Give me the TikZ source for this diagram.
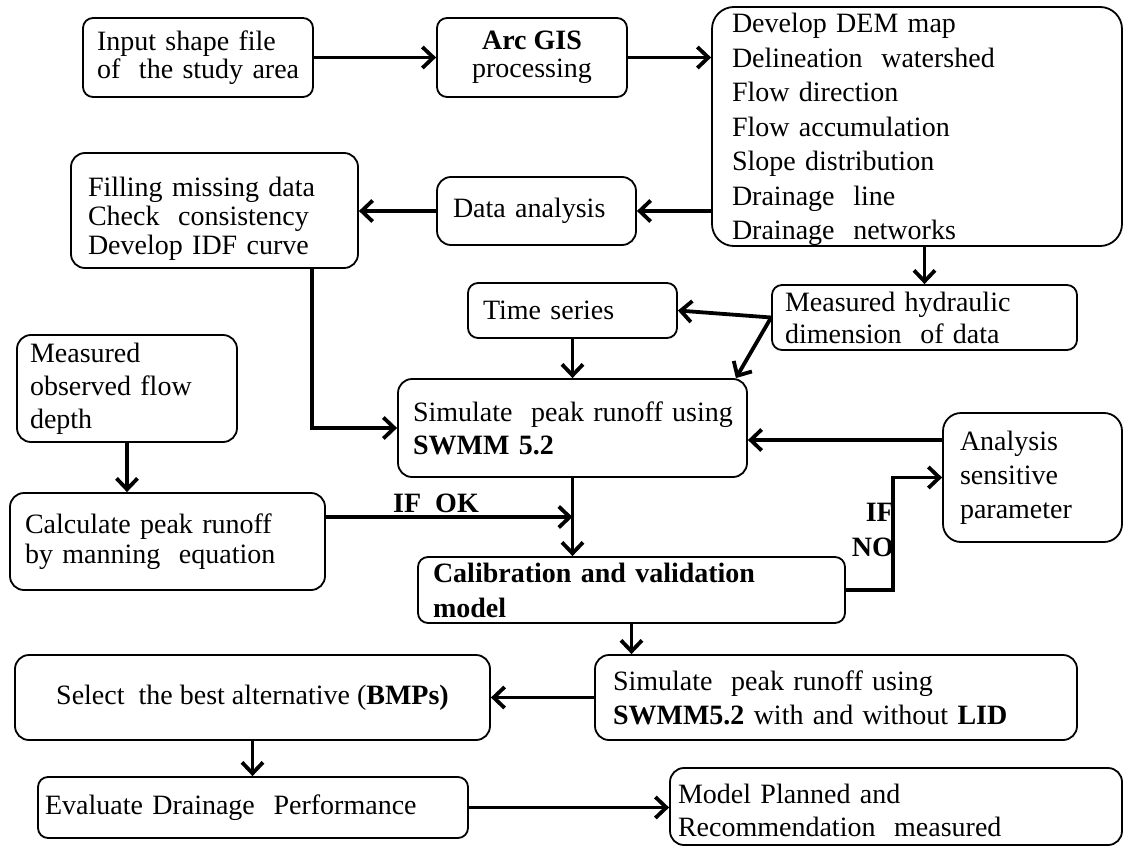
\documentclass[tikz,border=0pt]{standalone}
\usepackage{fontspec}
\setmainfont{Liberation Serif}
\usetikzlibrary{arrows.meta}
\newcommand{\fA}{\fontsize{28}{28}\selectfont}
\newcommand{\fB}{\fontsize{28}{33}\selectfont}
\newcommand{\fC}{\fontsize{28}{34.5}\selectfont}
\newcommand{\fD}{\fontsize{28}{29}\selectfont}
\newcommand{\fE}{\fontsize{28}{30}\selectfont}
\newcommand{\fF}{\fontsize{28}{35}\selectfont}
\newcommand{\fG}{\fontsize{28}{32}\selectfont}
\newcommand{\fH}{\fontsize{28}{34}\selectfont}
\newcommand{\mbx}[1]{\mbox{#1}}
\begin{document}
\begin{tikzpicture}[x=1pt,y=-1pt,
  box/.style={draw, line width=1.8pt, rounded corners=10pt, inner sep=0pt, align=left},
  conn/.style={line width=3.8pt, -{Straight Barb[length=11pt,width=21pt]}},
  lbl/.style={font=\fF\bfseries, inner sep=0pt}]
\useasboundingbox[fill=white] (0,0) rectangle (1126,848);

% nodes
\node[box, minimum width=230pt, minimum height=79pt, text width=202pt, font=\fA] (in1) at (198,57.5)
  {\mbx{Input shape file}\\\mbx{of~ the study area}};
\node[box, align=center, minimum width=190pt, minimum height=79pt, font=\fA] (arc) at (532,57.5)
  {\textbf{Arc GIS}\\processing};
\node[box, rounded corners=22pt, minimum width=410pt, minimum height=237pt, text width=370pt, font=\fC] (big) at (917,126.5)
  {\rule{0pt}{26pt}\mbx{Develop DEM map}\\\mbx{Delineation~ watershed}\\\mbx{Flow direction}\\\mbx{Flow accumulation}\\\mbx{Slope distribution}\\\mbx{Drainage~ line}\\\mbx{Drainage~ networks}};
\node[box, rounded corners=14pt, minimum width=287pt, minimum height=115pt, text width=253pt, font=\fD] (fill) at (214.5,210.5)
  {\rule{0pt}{36pt}\mbx{Filling missing data}\\\mbx{Check~ consistency}\\\mbx{Develop IDF curve}};
\node[box, rounded corners=14pt, minimum width=199pt, minimum height=68pt, text width=167pt, font=\fA] (data) at (536.5,211)
  {\mbx{Data analysis}};
\node[box, minimum width=209pt, minimum height=55pt, text width=179pt, font=\fA] (ts) at (572.5,310.5)
  {\mbx{Time series}};
\node[box, minimum width=305pt, minimum height=65pt, text width=279pt, font=\fG] (hyd) at (924.5,317.5)
  {\mbx{Measured hydraulic}\\\mbx{dimension~ of data}};
\node[box, rounded corners=14pt, minimum width=349pt, minimum height=98pt, text width=319pt, font=\fB] (sim) at (572.5,428)
  {\mbx{Simulate~ peak runoff using}\\\mbx{\textbf{SWMM 5.2}}};
\node[box, rounded corners=14pt, minimum width=220pt, minimum height=107pt, text width=194pt, font=\fB] (obs) at (127,388.5)
  {\mbx{Measured}\\\mbx{observed flow}\\\mbx{depth}};
\node[box, rounded corners=14pt, minimum width=315pt, minimum height=97pt, text width=285pt, font=\fE] (calc) at (167.5,541.5)
  {\mbx{Calculate peak runoff}\\\mbx{by manning~ equation}};
\node[box, minimum width=427pt, minimum height=66pt, text width=397pt, font=\fF\bfseries] (calib) at (631.5,590)
  {\mbx{Calibration and validation}\\\mbx{model}};
\node[box, rounded corners=18pt, minimum width=179pt, minimum height=129pt, text width=145pt, font=\fH] (ana) at (1032.5,477.5)
  {\mbx{Analysis}\\\mbx{sensitive}\\\mbx{parameter}};
\node[box, rounded corners=14pt, minimum width=482pt, minimum height=85pt, text width=446pt, font=\fH] (sim2) at (836,697.5)
  {\mbx{Simulate~ peak runoff using}\\\mbx{\textbf{SWMM5.2} with and without \textbf{LID}}};
\node[box, rounded corners=14pt, align=center, minimum width=475pt, minimum height=85pt, font=\fA] (sel) at (252.5,697.5)
  {Select~ the best alternative (\textbf{BMPs)}};
\node[box, minimum width=430pt, minimum height=61pt, text width=416pt, font=\fA] (eva) at (253,807.5)
  {\mbx{Evaluate Drainage~ Performance}};
\node[box, rounded corners=14pt, minimum width=452pt, minimum height=77pt, text width=436pt, font=\fB] (model) at (896,806.5)
  {\rule{0pt}{27pt}\mbx{Model Planned and}\\\mbx{Recommendation~ measured}};

% labels
\node[lbl, anchor=south] (ifok) at (436,513) {IF~ OK};
\node[lbl, align=right, anchor=east] (ifno) at (894,530) {IF\\NO};

% helper coordinates
\coordinate (fillOut) at ([xshift=97.5pt]fill.south);
\coordinate (calcOut) at ([yshift=24.5pt]calc.east);
\coordinate (anaOut) at ([yshift=37.5pt]ana.west);

% connectors
\draw[conn] (in1.east) -- (arc.west);
\draw[conn] (arc.east) -- (arc.east -| big.west);
\draw[conn] (data.east -| big.west) -- (data.east);
\draw[conn] (data.west) -- (data.west -| fill.east);
\draw[conn] (hyd.north |- big.south) -- (hyd.north);
\draw[conn] (hyd.west) -- (ts.east);
\draw[conn] (hyd.west) -- ([xshift=-12pt]sim.north east);
\draw[conn] (ts.south) -- (sim.north);
\draw[conn] (fillOut) |- (sim.west);
\draw[conn] (obs.south) -- (obs.south |- calc.north);
\draw[conn] (calcOut) -- (calcOut -| sim.south);
\draw[conn] (sim.south) -- (sim.south |- calib.north);
\draw[conn] (calib.east) -- ++(47,0) |- (ana.west);
\draw[conn] (anaOut) -- (anaOut -| sim.east);
\draw[conn] (calib.south) -- (calib.south |- sim2.north);
\draw[conn] (sim2.west) -- (sel.east);
\draw[conn] (sel.south) -- (sel.south |- eva.north);
\draw[conn] (eva.east) -- (eva.east -| model.west);
\end{tikzpicture}
\end{document}
